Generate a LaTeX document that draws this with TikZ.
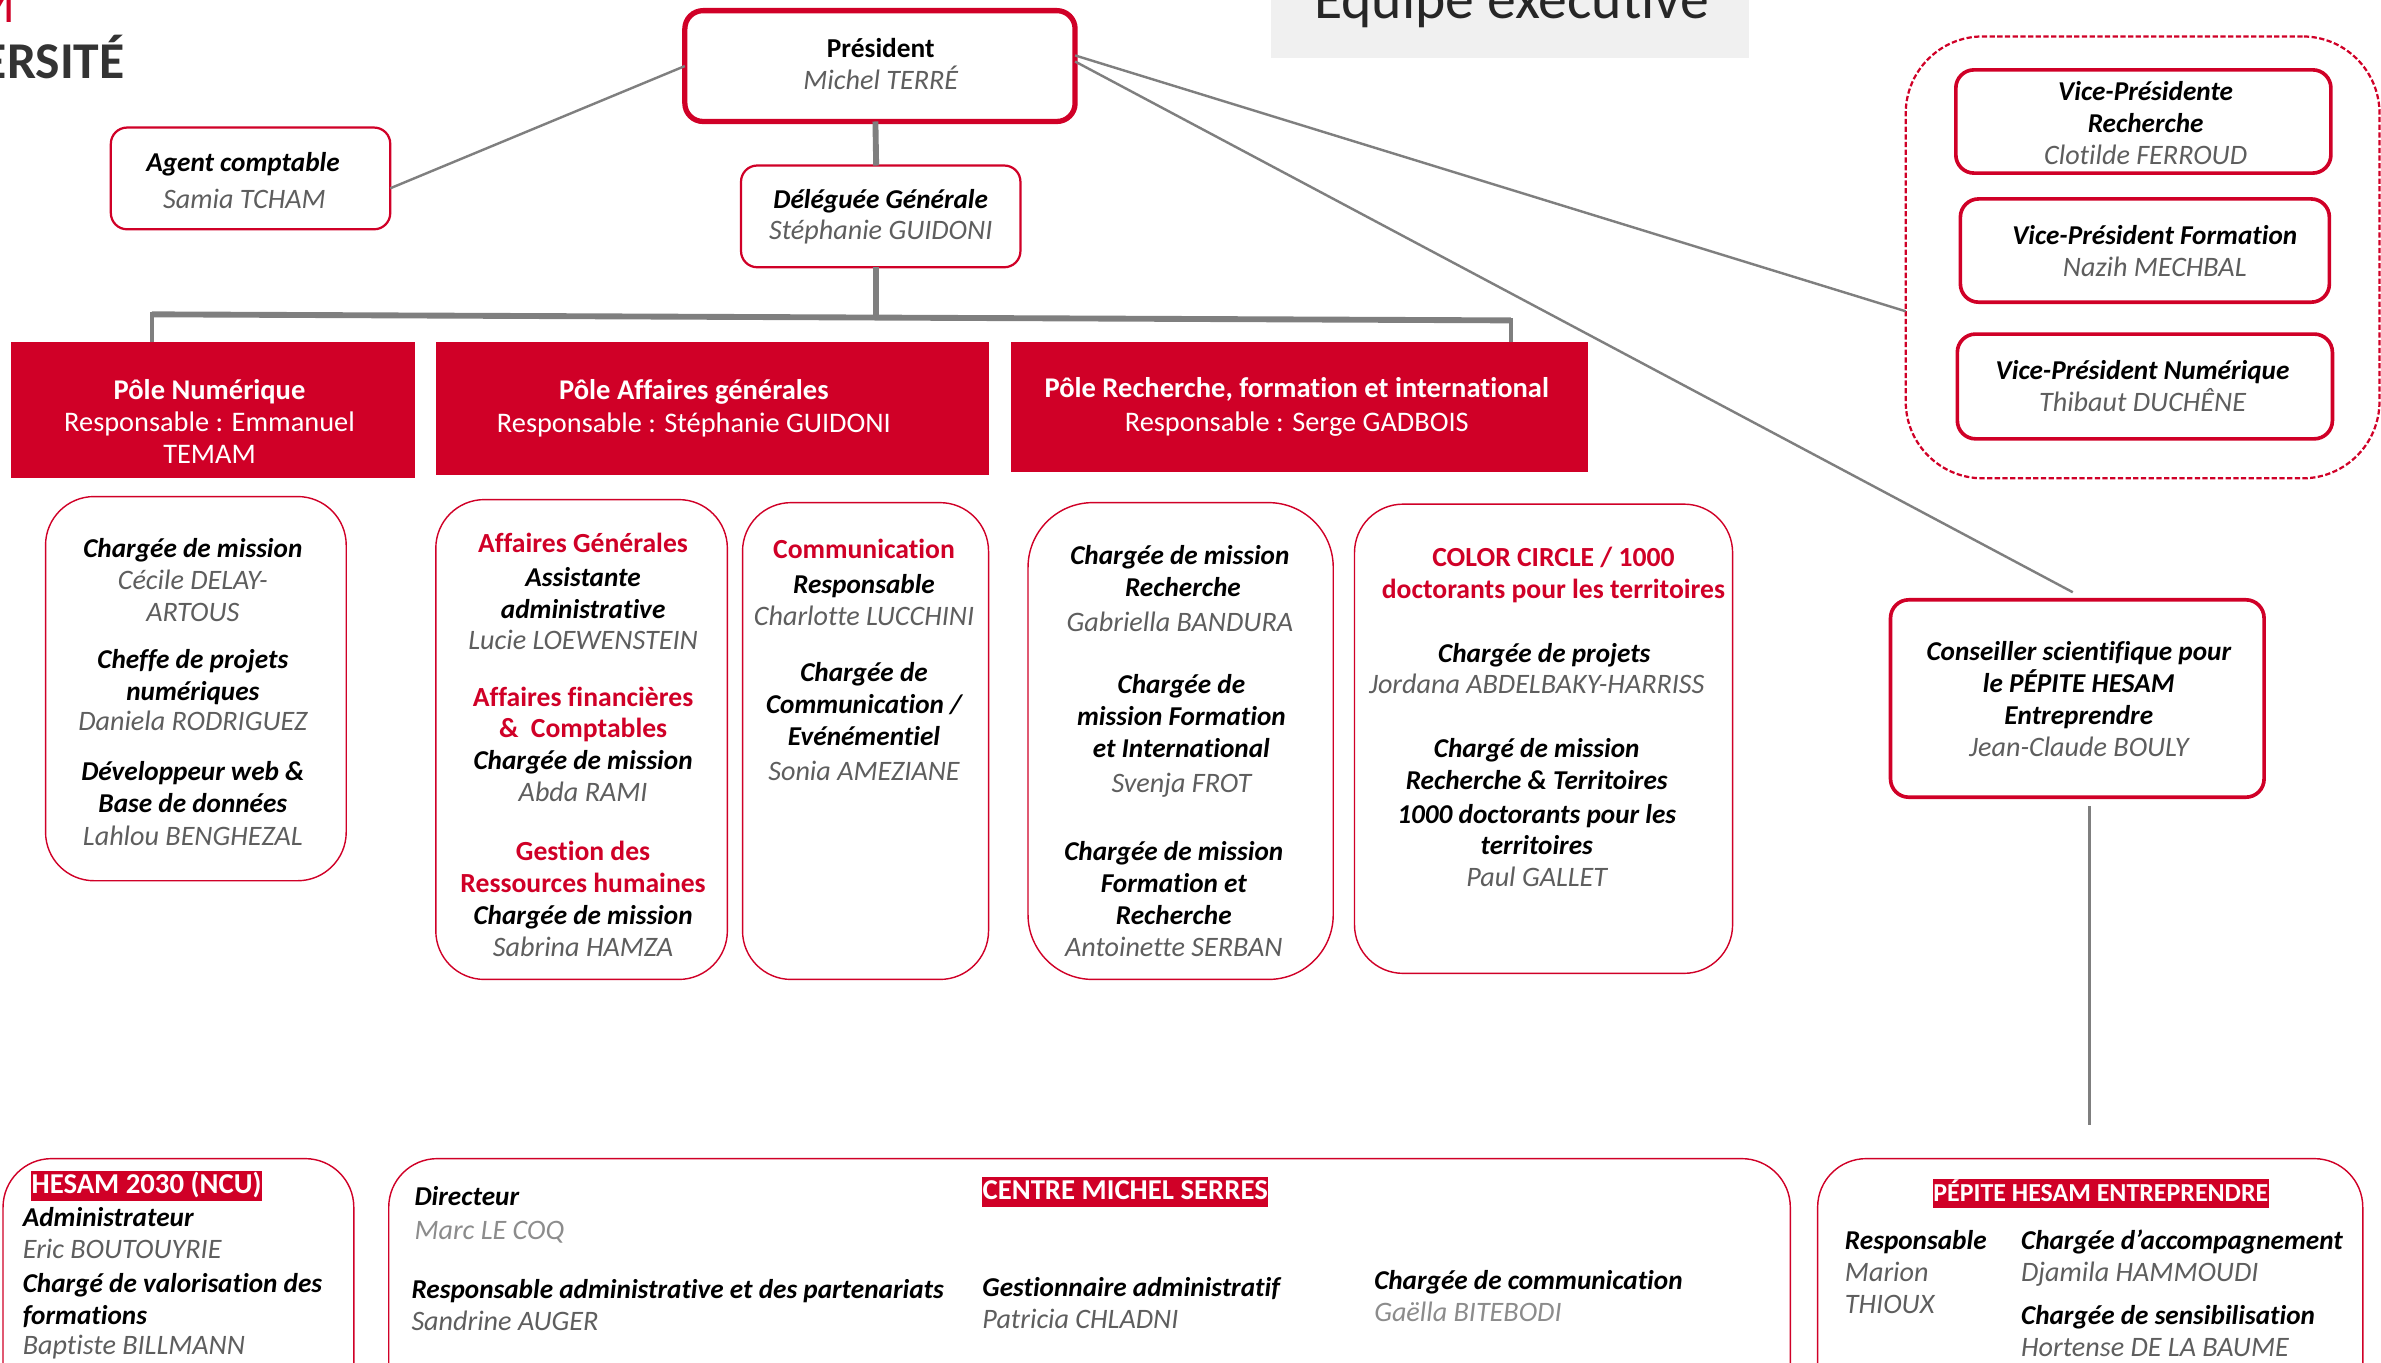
\documentclass[tikz,border=0pt]{standalone}
\usepackage{fontspec}
\setmainfont{Carlito}[Ligatures={TeX,NoCommon}]
\usetikzlibrary{calc}
\definecolor{hesred}{HTML}{D00027}
\definecolor{linegray}{HTML}{7F7F7F}
\definecolor{namegray}{HTML}{5E5E5E}
\definecolor{palegray}{HTML}{8C8C8C}
\definecolor{titlebg}{HTML}{F0F0F0}
\newcounter{tn}
% text line: style, x, y (visual centre of the line), text
\newcommand\lab[4]{\stepcounter{tn}\node[#1] (t\arabic{tn}) at (#2,#3+6) {#4};}
% box: name, style, x1, y1, x2, y2
\newcommand\bx[6]{%
  \pgfmathsetlengthmacro\bw{(#5-#3)*0.75pt}%
  \pgfmathsetlengthmacro\bh{(#6-#4)*0.75pt}%
  \node[#2,minimum width=\bw,minimum height=\bh] (#1) at ({(#3+#5)/2},{(#4+#6)/2}) {};}
\tikzset{
  x=0.75pt,y=-0.75pt,
  every node/.style={inner sep=0pt,outer sep=0pt},
  txt/.style={anchor=base,font=\fontsize{14}{15}\selectfont},
  bi/.style={txt,font=\fontsize{13.45}{15}\selectfont\bfseries\itshape,text=black},
  nm/.style={txt,font=\fontsize{13.9}{15}\selectfont\itshape,text=namegray},
  pn/.style={nm,text=palegray},
  rd/.style={txt,font=\fontsize{13.65}{15}\selectfont\bfseries,text=hesred},
  wb/.style={txt,font=\fontsize{14.1}{15}\selectfont\bfseries,text=white},
  wh/.style={txt,font=\fontsize{14}{15}\selectfont,text=white},
  bk/.style={txt,font=\fontsize{13.5}{15}\selectfont\bfseries,text=black},
  lft/.style={anchor=base west},
  tag/.style={rectangle,fill=hesred,text=white,anchor=center,font=\fontsize{14.2}{15}\selectfont\bfseries,inner xsep=0.3pt,text height=10.5pt,text depth=3pt,inner ysep=0.6pt},
  thick box/.style={rectangle,draw=hesred,fill=white,line width=2.6pt,rounded corners=9pt},
  mid box/.style={rectangle,draw=hesred,fill=white,line width=1.8pt,rounded corners=9pt},
  thin box/.style={rectangle,draw=hesred,fill=white,line width=1.1pt,rounded corners=8pt},
  card/.style={rectangle,draw=hesred,fill=white,line width=0.7pt,rounded corners=24pt},
  pole/.style={rectangle,fill=hesred},
  group box/.style={rectangle,draw=hesred,fill=white,line width=1.1pt,dash pattern=on 2.6pt off 1.2pt,rounded corners=38pt},
  cbar/.style={draw=linegray,line width=2.9pt},
  cthin/.style={draw=linegray,line width=1.2pt},
}
\begin{document}
\begin{tikzpicture}
\useasboundingbox (0,0) rectangle (1568,896.95);
% logo fragment and title
\node[anchor=base east,font=\fontsize{26}{26}\selectfont,text=hesred] (logoM) at (10.5,15) {M};
\node[anchor=base east,font=\fontsize{25.5}{26}\selectfont\bfseries,text=black!80] (logoU) at (82,52) {ERSITÉ};
\bx{titlebox}{rectangle,fill=titlebg}{837}{-20}{1152}{38}
\node[anchor=base,font=\fontsize{28.5}{28}\selectfont,text=black!85] (title) at (995.5,12.5) {Équipe exécutive};
% top boxes
\bx{pres}{thick box}{451}{7}{708}{80}
\bx{agent}{thin box}{73}{84}{257}{151}
\bx{deleg}{thin box}{488}{109}{672}{176}
\bx{pole1}{pole}{7}{225}{273}{315}
\bx{pole2}{pole}{287}{225}{651}{313}
\bx{pole3}{pole}{666}{225}{1046}{311}
\bx{vpgroup}{group box}{1255}{24}{1567}{315}
\bx{vp1}{mid box}{1288}{46}{1535}{114}
\bx{vp2}{mid box}{1291}{131}{1534}{199}
\bx{vp3}{mid box}{1289}{220}{1536}{289}
\bx{cons}{mid box}{1245}{395}{1491}{525}
% cards
\bx{c1}{card}{30}{327}{228}{580}
\bx{c2}{card}{287}{329}{479}{645}
\bx{c3}{card}{489}{331}{651}{645}
\bx{c4}{card,rounded corners=32pt}{677}{331}{878}{645}
\bx{c5}{card}{892}{332}{1141}{641}
\bx{b1}{card}{2}{763}{233}{930}
\bx{b2}{card}{256}{763}{1179}{930}
\bx{b3}{card}{1197}{763}{1556}{930}
% connectors
\coordinate (busL) at (100,207);
\coordinate (busR) at (995,211);
\coordinate (consEnd) at (1365,390);
\coordinate (pepTop) at (1376,531);
\coordinate (pepEnd) at (1376,741);
\draw[cthin] ($(agent.east)+(0,6.5)$) -- (pres.west);
\draw[cbar] ($(pres.south)+(-3,0)$) -- ($(deleg.north)+(-3,0)$);
\draw[cbar] ($(deleg.south)+(-3,0)$) -- ($(deleg.south)+(-3,33)$);
\draw[cbar,line join=miter] (busL) -- (busR);
\draw[cbar,line width=2pt] ($(busL)+(0,-1.3)$) -- (busL |- pole1.north);
\draw[cbar,line width=2pt] ($(busR)+(0,-1.3)$) -- (busR |- pole3.north);
\draw[cthin] ($(pres.east)+(0,-7)$) -- ($(vpgroup.west)+(0,35.5)$);
\draw[cthin] ($(pres.east)+(0,-3)$) -- (consEnd);
\draw[cthin,line width=1.9pt] (pepTop) -- (pepEnd);
% top texts
\lab{bk}{580}{32}{Président}
\lab{nm}{580}{53}{Michel TERRÉ}
\lab{bi}{160}{107}{Agent comptable}
\lab{nm}{161}{131}{Samia TCHAM}
\lab{bi}{580}{131}{Déléguée Générale}
\lab{nm}{580}{152}{Stéphanie GUIDONI}
\lab{wb}{138}{257}{Pôle Numérique}
\lab{wh}{138}{278}{Responsable : Emmanuel}
\lab{wh}{138}{299}{TEMAM}
\lab{wb}{457}{257}{Pôle Affaires générales}
\lab{wh}{457}{279}{Responsable : Stéphanie GUIDONI}
\lab{wb}{854}{256}{Pôle Recherche, formation et international}
\lab{wh}{854}{278}{Responsable : Serge GADBOIS}
\lab{bi}{1413}{60}{Vice-Présidente}
\lab{bi}{1413}{81}{Recherche}
\lab{nm}{1413}{102}{Clotilde FERROUD}
\lab{bi}{1419}{155}{Vice-Président Formation}
\lab{nm}{1419}{176}{Nazih MECHBAL}
\lab{bi}{1411}{244}{Vice-Président Numérique}
\lab{nm}{1411}{265}{Thibaut DUCHÊNE}
\lab{bi}{1369}{429}{Conseiller scientifique pour}
\lab{bi}{1369}{450}{le PÉPITE HESAM}
\lab{bi}{1369}{471}{Entreprendre}
\lab{nm}{1369}{492}{Jean-Claude BOULY}
% card 1
\lab{bi}{127}{361}{Chargée de mission}
\lab{nm}{127}{382}{Cécile DELAY-}
\lab{nm}{127}{403}{ARTOUS}
\lab{bi}{127}{434}{Cheffe de projets}
\lab{bi}{127}{455}{numériques}
\lab{nm}{127}{475}{Daniela RODRIGUEZ}
\lab{bi}{127}{508}{Développeur web \&}
\lab{bi}{127}{529}{Base de données}
\lab{nm}{127}{551}{Lahlou BENGHEZAL}
% card 2
\lab{rd}{384}{358}{Affaires Générales}
\lab{bi}{384}{380}{Assistante}
\lab{bi}{384}{401}{administrative}
\lab{nm}{384}{422}{Lucie LOEWENSTEIN}
\lab{rd}{384}{459}{Affaires financières}
\lab{rd}{384}{480}{\&\ \ Comptables}
\lab{bi}{384}{501}{Chargée de mission}
\lab{nm}{384}{522}{Abda RAMI}
\lab{rd}{384}{561}{Gestion des}
\lab{rd}{384}{582}{Ressources humaines}
\lab{bi}{384}{603}{Chargée de mission}
\lab{nm}{384}{624}{Sabrina HAMZA}
% card 3
\lab{rd}{569}{362}{Communication}
\lab{bi}{569}{385}{Responsable}
\lab{nm}{569}{406}{Charlotte LUCCHINI}
\lab{bi}{569}{443}{Chargée de}
\lab{bi}{569}{464}{Communication /}
\lab{bi}{569}{485}{Evénémentiel}
\lab{nm}{569}{508}{Sonia AMEZIANE}
% card 4
\lab{bi}{777}{366}{Chargée de mission}
\lab{bi}{779}{387}{Recherche}
\lab{nm}{777}{410}{Gabriella BANDURA}
\lab{bi}{778}{451}{Chargée de}
\lab{bi}{778}{472}{mission Formation}
\lab{bi}{778}{493}{et International}
\lab{nm}{778}{516}{Svenja FROT}
\lab{bi}{773}{561}{Chargée de mission}
\lab{bi}{773}{582}{Formation et}
\lab{bi}{773}{603}{Recherche}
\lab{nm}{773}{624}{Antoinette SERBAN}
% card 5
\lab{rd}{1023}{367}{COLOR CIRCLE / 1000}
\lab{rd}{1023}{388}{doctorants pour les territoires}
\lab{bi}{1017}{430}{Chargée de projets}
\lab{nm}{1012}{451}{Jordana ABDELBAKY-HARRISS}
\lab{bi}{1012}{493}{Chargé de mission}
\lab{bi}{1012}{514}{Recherche \& Territoires}
\lab{bi}{1012}{536}{1000 doctorants pour les}
\lab{bi}{1012}{557}{territoires}
\lab{nm}{1012}{578}{Paul GALLET}
% bottom 1
\node[tag] (tagA) at (96.5,781) {HESAM 2030 (NCU)};
\lab{bi,lft}{15}{802}{Administrateur}
\lab{nm,lft}{15}{823}{Eric BOUTOUYRIE}
\lab{bi,lft}{15}{845}{Chargé de valorisation des}
\lab{bi,lft}{15}{866}{formations}
\lab{nm,lft}{15}{886}{Baptiste BILLMANN}
% bottom 2
\node[tag] (tagB) at (741,785) {CENTRE MICHEL SERRES};
\lab{bi,lft}{273}{788}{Directeur}
\lab{pn,lft}{273}{810}{Marc LE COQ}
\lab{bi,lft}{271}{849}{Responsable administrative et des partenariats}
\lab{nm,lft}{271}{870}{Sandrine AUGER}
\lab{bi,lft}{647}{848}{Gestionnaire administratif}
\lab{nm,lft}{647}{869}{Patricia CHLADNI}
\lab{bi,lft}{905}{843}{Chargée de communication}
\lab{pn,lft}{905}{864}{Gaëlla BITEBODI}
% bottom 3
\node[tag,font=\fontsize{12.8}{15}\selectfont\bfseries] (tagC) at (1383.5,786) {PÉPITE HESAM ENTREPRENDRE};
\lab{bi,lft}{1215}{817}{Responsable}
\lab{nm,lft}{1215}{838}{Marion}
\lab{nm,lft}{1215}{859}{THIOUX}
\lab{bi,lft}{1331}{817}{Chargée d\symbol{39}accompagnement}
\lab{nm,lft}{1331}{838}{Djamila HAMMOUDI}
\lab{bi,lft}{1331}{866}{Chargée de sensibilisation}
\lab{nm,lft}{1331}{887}{Hortense DE LA BAUME}
\end{tikzpicture}
\end{document}
